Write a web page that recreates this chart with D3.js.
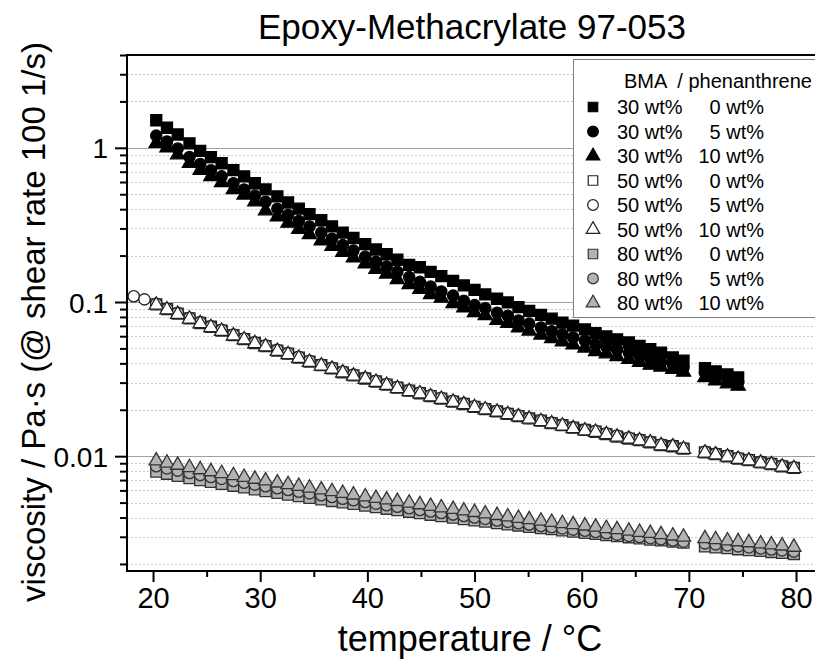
<!DOCTYPE html>
<html>
<head>
<meta charset="utf-8">
<script src="https://cdn.jsdelivr.net/npm/d3@7"></script>
<style>
  body { margin: 0; background: #fff; }
  text { font-family: Arial, "Liberation Sans", sans-serif; fill: #000; }
</style>
</head>
<body>
<div id="chart"></div>
<script>
// temperatures (°C) of the ramp, before and after the small gap near 70 °C
var temps = [20.3,21.3,22.3,23.4,24.4,25.4,26.4,27.5,28.5,29.5,30.5,31.6,32.6,33.6,34.6,35.7,36.7,37.7,38.7,39.8,
             40.8,41.8,42.8,43.9,44.9,45.9,46.9,48.0,49.0,50.0,51.0,52.1,53.1,54.1,55.1,56.2,57.2,58.2,59.2,60.3,
             61.3,62.3,63.3,64.4,65.4,66.4,67.4,68.5,69.5];
var tempsHigh = [71.5,72.5,73.6,74.6,75.6,76.7,77.7,78.7,79.8];
var tempsLow = [18.2,19.2];

// viscosity (Pa·s) at shear rate 100 1/s
var bma30_phen0 = [1.51,1.35,1.22,1.07,0.955,0.871,0.794,0.716,0.653,0.589,0.537,0.484,0.442,0.403,0.372,0.339,0.309,0.282,0.260,0.237,
  0.219,0.204,0.188,0.174,0.168,0.157,0.147,0.137,0.128,0.120,0.112,0.105,0.0993,0.0927,0.0875,0.0826,0.0780,0.0736,0.0703,0.0664,
  0.0627,0.0598,0.0572,0.0546,0.0520,0.0495,0.0470,0.0437,0.0417, 0.0372,0.0355,0.0339,0.0324];
var bma30_phen5 = [1.20,1.10,0.989,0.871,0.785,0.716,0.653,0.589,0.537,0.490,0.447,0.403,0.367,0.335,0.309,0.282,0.257,0.234,0.216,0.197,
  0.182,0.170,0.157,0.145,0.135,0.126,0.117,0.110,0.102,0.0955,0.0912,0.0851,0.0813,0.0759,0.0724,0.0684,0.0646,0.0617,0.0589,0.0562,
  0.0531,0.0513,0.0490,0.0468,0.0447,0.0427,0.0407,0.0394,0.0376, 0.0347,0.0327,0.0313,0.0302];
var bma30_phen10 = [1.07,1.00,0.902,0.794,0.716,0.653,0.596,0.537,0.495,0.447,0.391,0.357,0.325,0.297,0.274,0.250,0.230,0.210,0.194,0.177,
  0.163,0.152,0.140,0.130,0.121,0.112,0.106,0.0979,0.0917,0.0855,0.0817,0.0762,0.0729,0.0680,0.0649,0.0612,0.0579,0.0552,0.0528,0.0504,
  0.0478,0.0462,0.0443,0.0425,0.0407,0.0390,0.0379,0.0367,0.0351, 0.0324,0.0309,0.0295,0.0285];

var bma50_phen0 = [0.0965,0.0900,0.0840,0.0784,0.0731,0.0691,0.0652,0.0609,0.0575,0.0542,0.0518,0.0484,0.0462,0.0436,0.0411,0.0389,0.0371,0.0350,0.0334,0.0319,
  0.0305,0.0291,0.0278,0.0266,0.0256,0.0245,0.0236,0.0226,0.0218,0.0209,0.0202,0.0195,0.0188,0.0182,0.0176,0.0170,0.0164,0.0159,0.0153,0.0148,
  0.0144,0.0139,0.0134,0.0130,0.0127,0.0123,0.0118,0.0116,0.0112, 0.0106,0.0103,0.00999,0.00965,0.00942,0.00911,0.00890,0.00860,0.00840];
var bma50_phen5 = [0.109,0.104, 0.0975,0.0905,0.0850,0.0790,0.0740,0.0697,0.0660,0.0615,0.0580,0.0548,0.0523,0.0489,0.0466,0.0441,0.0416,0.0393,0.0374,0.0354,0.0338,0.0322,
  0.0308,0.0294,0.0281,0.0268,0.0259,0.0248,0.0239,0.0229,0.0220,0.0211,0.0204,0.0197,0.0190,0.0184,0.0177,0.0171,0.0165,0.0160,0.0154,0.0149,
  0.0146,0.0141,0.0136,0.0132,0.0128,0.0124,0.0119,0.0117,0.0113, 0.0107,0.0104,0.0101,0.00975,0.00950,0.00920,0.00898,0.00868,0.00848];
var bma50_phen10 = [0.0955,0.0891,0.0832,0.0776,0.0724,0.0684,0.0646,0.0603,0.0569,0.0537,0.0513,0.0479,0.0457,0.0432,0.0407,0.0385,0.0367,0.0347,0.0331,0.0316,
  0.0302,0.0288,0.0275,0.0263,0.0254,0.0243,0.0234,0.0224,0.0216,0.0207,0.0200,0.0193,0.0186,0.0180,0.0174,0.0168,0.0162,0.0157,0.0151,0.0146,
  0.0143,0.0138,0.0133,0.0129,0.0126,0.0122,0.0117,0.0115,0.0111, 0.0105,0.0102,0.00989,0.00955,0.00933,0.00902,0.00881,0.00851,0.00832];

var bma80_phen0 = [0.00794,0.00769,0.00746,0.00721,0.00700,0.00681,0.00662,0.00643,0.00627,0.00610,0.00594,0.00578,0.00564,0.00551,0.00537,0.00524,0.00512,0.00501,0.00490,0.00478,
  0.00467,0.00456,0.00447,0.00436,0.00427,0.00417,0.00408,0.00399,0.00391,0.00383,0.00376,0.00368,0.00361,0.00355,0.00348,0.00341,0.00336,0.00330,0.00324,0.00318,
  0.00313,0.00308,0.00303,0.00298,0.00293,0.00288,0.00284,0.00279,0.00275, 0.00260,0.00256,0.00253,0.00249,0.00246,0.00243,0.00239,0.00236,0.00232];
var bma80_phen5 = [0.00860,0.00833,0.00806,0.00778,0.00754,0.00732,0.00712,0.00691,0.00673,0.00654,0.00638,0.00619,0.00604,0.00588,0.00574,0.00558,0.00544,0.00530,0.00518,0.00504,
  0.00492,0.00481,0.00470,0.00459,0.00448,0.00438,0.00428,0.00418,0.00409,0.00400,0.00392,0.00383,0.00375,0.00367,0.00360,0.00352,0.00346,0.00340,0.00334,0.00328,
  0.00322,0.00316,0.00310,0.00304,0.00299,0.00294,0.00289,0.00284,0.00279, 0.00272,0.00268,0.00264,0.00260,0.00256,0.00252,0.00248,0.00245,0.00241];
var bma80_phen10 = [0.00933,0.00904,0.00875,0.00845,0.00818,0.00794,0.00773,0.00750,0.00730,0.00710,0.00692,0.00671,0.00655,0.00638,0.00622,0.00605,0.00590,0.00575,0.00561,0.00546,
  0.00533,0.00521,0.00509,0.00497,0.00485,0.00474,0.00463,0.00452,0.00442,0.00432,0.00423,0.00413,0.00405,0.00396,0.00388,0.00380,0.00373,0.00366,0.00360,0.00353,
  0.00347,0.00340,0.00334,0.00327,0.00321,0.00316,0.00310,0.00304,0.00299, 0.00292,0.00288,0.00283,0.00279,0.00275,0.00270,0.00266,0.00262,0.00257];

var bmaLabels = ["30 wt%","30 wt%","30 wt%","50 wt%","50 wt%","50 wt%","80 wt%","80 wt%","80 wt%"];
var phenLabels = ["0 wt%","5 wt%","10 wt%","0 wt%","5 wt%","10 wt%","0 wt%","5 wt%","10 wt%"];
var xTickLabels = [20,30,40,50,60,70,80];
var yTickLabels = [0.01,0.1,1];

var t30 = temps.concat(tempsHigh.slice(0,4));
var tAll = temps.concat(tempsHigh);
var t50c = tempsLow.concat(tAll);

var series = [
  {t: t30, v: bma30_phen0, shape: "square", fill: "#000", stroke: "#000"},
  {t: t30, v: bma30_phen5, shape: "circle", fill: "#000", stroke: "#000"},
  {t: t30, v: bma30_phen10, shape: "triangle", fill: "#000", stroke: "#000"},
  {t: tAll, v: bma50_phen0, shape: "square", fill: "#fff", stroke: "#222"},
  {t: t50c, v: bma50_phen5, shape: "circle", fill: "#fff", stroke: "#222"},
  {t: tAll, v: bma50_phen10, shape: "triangle", fill: "#fff", stroke: "#222"},
  {t: tAll, v: bma80_phen0, shape: "square", fill: "#b3b3b3", stroke: "#333"},
  {t: tAll, v: bma80_phen5, shape: "circle", fill: "#b3b3b3", stroke: "#333"},
  {t: tAll, v: bma80_phen10, shape: "triangle", fill: "#b3b3b3", stroke: "#333"}
];

var W = 815, H = 662;
var pL = 127, pR = 815, pT = 55, pB = 571;

var x = d3.scaleLinear().domain([17.57, 81.77]).range([pL, pR]);
var y = d3.scaleLog().domain([0.0018, 4]).range([pB, pT]);

var svg = d3.select("#chart").append("svg")
    .attr("width", W)
    .attr("height", H);

// grid
var yAll = y.ticks().filter(function(d) { return d >= 0.0018 && d <= 4; });
var isMajor = function(d) { return Math.abs(Math.log10(d) - Math.round(Math.log10(d))) < 1e-6; };

svg.append("g").selectAll("line")
    .data(yAll.filter(function(d) { return !isMajor(d); }))
  .enter().append("line")
    .attr("x1", pL).attr("x2", pR)
    .attr("y1", function(d) { return Math.round(y(d)) + 0.5; })
    .attr("y2", function(d) { return Math.round(y(d)) + 0.5; })
    .attr("stroke", "#c8c8c8")
    .attr("stroke-dasharray", "2,2");

svg.append("g").selectAll("line")
    .data(yAll.filter(isMajor))
  .enter().append("line")
    .attr("x1", pL).attr("x2", pR)
    .attr("y1", function(d) { return Math.round(y(d)) + 0.5; })
    .attr("y2", function(d) { return Math.round(y(d)) + 0.5; })
    .attr("stroke", "#a0a0a0");

// data
function sym(shape, size) {
  var type = shape === "square" ? d3.symbolSquare : shape === "circle" ? d3.symbolCircle : d3.symbolTriangle;
  return d3.symbol().type(type).size(size)();
}
var sizes = {square: 121, circle: 100, triangle: 88};

series.forEach(function(s) {
  var pts = s.v.map(function(v, i) { return {t: s.t[i], v: v}; });
  svg.append("g").selectAll("path")
      .data(pts)
    .enter().append("path")
      .attr("d", sym(s.shape, sizes[s.shape]))
      .attr("transform", function(d) { return "translate(" + x(d.t) + "," + y(d.v) + ")"; })
      .attr("fill", s.fill)
      .attr("stroke", s.stroke)
      .attr("stroke-width", 1.3);
});

// axes
var xAxis = d3.axisBottom(x)
    .tickValues(d3.range(20, 81, 5))
    .tickSize(0)
    .tickFormat(function(d) { return xTickLabels.indexOf(d) >= 0 ? d : ""; });
var gx = svg.append("g")
    .attr("transform", "translate(0," + pB + ")")
    .call(xAxis);
gx.selectAll(".tick line")
    .attr("y2", function(d) { return d % 10 === 0 ? 11 : 6; })
    .attr("stroke", "#000").attr("stroke-width", 2);
gx.selectAll(".tick text")
    .attr("y", 16).attr("dy", "0.71em")
    .style("font-size", "29px").style("font-family", "Arial, 'Liberation Sans', sans-serif");
gx.select(".domain").remove();

var yAxis = d3.axisLeft(y)
    .tickValues(yAll)
    .tickSize(0)
    .tickFormat(function(d) { return yTickLabels.indexOf(d) >= 0 ? d : ""; });
var gy = svg.append("g")
    .attr("transform", "translate(" + pL + ",0)")
    .call(yAxis);
gy.selectAll(".tick line")
    .attr("x2", function(d) { return isMajor(d) ? -12 : -7; })
    .attr("stroke", "#000").attr("stroke-width", 2);
gy.selectAll(".tick text")
    .attr("x", -19).attr("dy", "0.36em")
    .style("font-size", "28px").style("font-family", "Arial, 'Liberation Sans', sans-serif");
gy.select(".domain").remove();

// frame
svg.append("line").attr("x1", pL).attr("x2", pL).attr("y1", pT - 1).attr("y2", pB + 1)
    .attr("stroke", "#000").attr("stroke-width", 2);
svg.append("line").attr("x1", pL - 1).attr("x2", pR).attr("y1", pB).attr("y2", pB)
    .attr("stroke", "#000").attr("stroke-width", 2);
svg.append("line").attr("x1", pL - 1).attr("x2", pR).attr("y1", pT).attr("y2", pT)
    .attr("stroke", "#000").attr("stroke-width", 2);

// titles
svg.append("text")
    .attr("x", 472).attr("y", 39)
    .attr("text-anchor", "middle")
    .style("font-size", "35px")
    .text("Epoxy-Methacrylate 97-053");
svg.append("text")
    .attr("x", 470).attr("y", 651)
    .attr("text-anchor", "middle")
    .style("font-size", "36px")
    .text("temperature / °C");
svg.append("text")
    .attr("transform", "translate(45,322) rotate(-90)")
    .attr("text-anchor", "middle")
    .style("font-size", "33px")
    .text("viscosity / Pa·s (@ shear rate 100 1/s)");

// legend
var lg = svg.append("g");
lg.append("rect")
    .attr("x", 573.5).attr("y", 59.5)
    .attr("width", 260).attr("height", 258)
    .attr("fill", "#fff").attr("stroke", "#808080");
lg.append("text")
    .attr("x", 624).attr("y", 88)
    .style("font-size", "20px").style("white-space", "pre")
    .text("BMA  / phenanthrene");
var rowY = d3.scaleLinear().domain([0, 8]).range([107, 303]);
series.forEach(function(s, i) {
  lg.append("path")
      .attr("d", sym(s.shape, s.shape === "square" ? 90 : s.shape === "circle" ? 90 : 80))
      .attr("transform", "translate(593," + rowY(i) + ")")
      .attr("fill", s.fill).attr("stroke", s.stroke).attr("stroke-width", 1.2);
  lg.append("text")
      .attr("x", 617).attr("y", rowY(i) + 7)
      .style("font-size", "20px")
      .text(bmaLabels[i]);
  lg.append("text")
      .attr("x", 764).attr("y", rowY(i) + 7)
      .attr("text-anchor", "end")
      .style("font-size", "20px")
      .text(phenLabels[i]);
});
</script>
</body>
</html>
